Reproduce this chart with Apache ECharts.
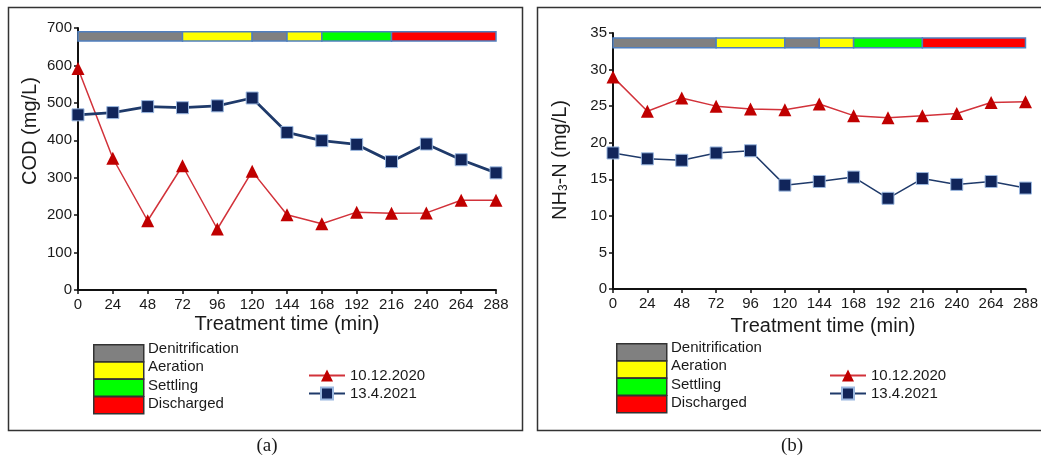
<!DOCTYPE html>
<html><head><meta charset="utf-8">
<script src="https://cdn.jsdelivr.net/npm/echarts@6/dist/echarts.min.js"></script>
<style>html,body{margin:0;padding:0;background:#fff}#c{width:1041px;height:461px}</style>
</head><body><div id="c"></div>
<script>
// ---- data ----
const times = [0, 24, 48, 72, 96, 120, 144, 168, 192, 216, 240, 264, 288];
const xTicks = [0, 24, 48, 72, 96, 120, 144, 168, 192, 216, 240, 264, 288];
const codYTicks = [0, 100, 200, 300, 400, 500, 600, 700];
const nhYTicks = [0, 5, 10, 15, 20, 25, 30, 35];
const seriesNames = ['10.12.2020', '13.4.2021'];
const cod_2020 = [592, 352, 185, 332, 163, 317, 201, 177, 208, 205, 206, 240, 240];
const cod_2021 = [468, 474, 490, 487, 492, 513, 421, 399, 389, 343, 390, 348, 313];
const nh_2020 = [29.0, 24.3, 26.1, 25.0, 24.6, 24.5, 25.3, 23.7, 23.4, 23.7, 24.0, 25.5, 25.6];
const nh_2021 = [18.6, 17.8, 17.6, 18.6, 18.9, 14.2, 14.7, 15.3, 12.4, 15.1, 14.3, 14.7, 13.8];
const phaseNames = ['Denitrification', 'Aeration', 'Settling', 'Discharged'];
const phaseStart = [0, 72, 120, 144, 168, 216];
const phaseEnd = [72, 120, 144, 168, 216, 288];
const phaseKind = [0, 1, 0, 1, 2, 3];

// ---- styles ----
const phaseColors = ['#808080', '#ffff00', '#00ff00', '#ff0000'];
const FONT = '"Liberation Sans", Arial, sans-serif';
const RED_LINE = '#d2323a', RED_MARK = '#c00000';
const BLUE_LINE = '#1f3a6a', BLUE_MARK = '#11255a';

const chart = echarts.init(document.getElementById('c'), null, {renderer: 'canvas'});

function xAxis(gi) {
  return {
    type: 'value', gridIndex: gi, min: 0, max: 288, interval: 24,
    axisLine: {lineStyle: {color: '#111', width: 2}},
    axisTick: {show: true, length: 4, lineStyle: {color: '#111', width: 1.5}},
    axisLabel: {color: '#1a1a1a', fontSize: 15, fontFamily: FONT, margin: 7,
      formatter: v => xTicks.indexOf(v) >= 0 ? String(v) : ''},
    splitLine: {show: false}
  };
}
function yAxis(gi, max, interval, ticks) {
  return {
    type: 'value', gridIndex: gi, min: 0, max: max, interval: interval,
    axisLine: {show: true, lineStyle: {color: '#111', width: 2}},
    axisTick: {show: true, length: 4, lineStyle: {color: '#111', width: 1.5}},
    axisLabel: {color: '#1a1a1a', fontSize: 15, fontFamily: FONT, margin: 6,
      formatter: v => ticks.indexOf(v) >= 0 ? String(v) : ''},
    splitLine: {show: false}
  };
}
function phaseSeries(gi, lo, hi) {
  return {
    type: 'custom', xAxisIndex: gi, yAxisIndex: gi, silent: true, clip: false, z: 1,
    data: phaseStart.map((s, i) => [s, phaseEnd[i], phaseKind[i]]),
    renderItem: function (params, api) {
      const a = api.coord([api.value(0), lo]);
      const b = api.coord([api.value(1), hi]);
      return {type: 'rect', shape: {x: a[0], y: b[1], width: b[0] - a[0], height: a[1] - b[1]},
        style: {fill: phaseColors[api.value(2)], stroke: '#4f7fbf', lineWidth: 1.5}};
    }
  };
}
function lineSeries(gi, name, data, color, markColor, symbol, size, width, border) {
  return {
    type: 'line', name: name, xAxisIndex: gi, yAxisIndex: gi, z: 3,
    data: times.map((t, i) => [t, data[i]]),
    symbol: symbol, symbolSize: size, showSymbol: true,
    lineStyle: {color: color, width: width},
    itemStyle: {color: markColor, borderColor: border, borderWidth: border ? 1 : 0},
    emphasis: {disabled: true}
  };
}
function legend(left) {
  return {
    data: seriesNames, orient: 'vertical', left: left, top: 363, itemWidth: 36, itemHeight: 15, itemGap: 3,
    textStyle: {color: '#1a1a1a', fontSize: 15, fontFamily: FONT}, selectedMode: false
  };
}
function phaseLegend(x, y) {
  const els = [];
  phaseNames.forEach((n, i) => {
    els.push({type: 'rect', left: x, top: y + i * 17.3, shape: {width: 50, height: 17},
      style: {fill: phaseColors[i], stroke: '#333', lineWidth: 1.5}});
    els.push({type: 'text', left: x + 55, top: y - 3 + i * 18.5,
      style: {text: n, fill: '#1a1a1a', font: '15px ' + FONT}});
  });
  return els;
}

const option = {
  animation: false,
  grid: [
    {left: 78, top: 28, width: 418, height: 262},
    {left: 613, top: 33, width: 420, height: 256}
  ],
  xAxis: [xAxis(0), xAxis(1)],
  yAxis: [yAxis(0, 700, 100, codYTicks), yAxis(1, 35, 5, nhYTicks)],
  legend: [legend(303), legend(824)],
  series: [
    phaseSeries(0, 665, 690),
    lineSeries(0, seriesNames[0], cod_2020, RED_LINE, RED_MARK, 'triangle', 13, 1.5, null),
    lineSeries(0, seriesNames[1], cod_2021, BLUE_LINE, BLUE_MARK, 'rect', 12, 2.8, '#9bb8e0'),
    phaseSeries(1, 33.0, 34.3),
    lineSeries(1, seriesNames[0], nh_2020, RED_LINE, RED_MARK, 'triangle', 13, 1.5, null),
    lineSeries(1, seriesNames[1], nh_2021, BLUE_LINE, BLUE_MARK, 'rect', 12, 1.5, '#9bb8e0')
  ],
  graphic: [
    {type: 'rect', left: 6, top: 5, shape: {width: 514, height: 423}, style: {fill: 'none', stroke: '#333', lineWidth: 1.5}, z: -1},
    {type: 'rect', left: 535, top: 5, shape: {width: 520, height: 423}, style: {fill: 'none', stroke: '#333', lineWidth: 1.5}, z: -1},
    {type: 'text', x: 30, y: 131, rotation: Math.PI / 2,
      style: {text: 'COD (mg/L)', fill: '#1a1a1a', font: '20px ' + FONT, align: 'center', verticalAlign: 'middle'}},
    {type: 'text', x: 560, y: 160, rotation: Math.PI / 2,
      style: {text: 'NH{s|3}-N (mg/L)', fill: '#1a1a1a', font: '20px ' + FONT, align: 'center', verticalAlign: 'middle',
        rich: {s: {fontSize: 12, fontFamily: FONT, fill: '#1a1a1a', verticalAlign: 'bottom', padding: [8, 0, 0, 0]}}}},
    {type: 'text', x: 287, y: 324,
      style: {text: 'Treatment time (min)', fill: '#1a1a1a', font: '20px ' + FONT, align: 'center', verticalAlign: 'middle'}},
    {type: 'text', x: 823, y: 326,
      style: {text: 'Treatment time (min)', fill: '#1a1a1a', font: '20px ' + FONT, align: 'center', verticalAlign: 'middle'}},
    {type: 'text', x: 267, y: 446,
      style: {text: '(a)', fill: '#1a1a1a', font: '19px "Liberation Serif", serif', align: 'center', verticalAlign: 'middle'}},
    {type: 'text', x: 792, y: 446,
      style: {text: '(b)', fill: '#1a1a1a', font: '19px "Liberation Serif", serif', align: 'center', verticalAlign: 'middle'}}
  ].concat(phaseLegend(93, 344), phaseLegend(616, 343))
};
chart.setOption(option);
</script></body></html>
